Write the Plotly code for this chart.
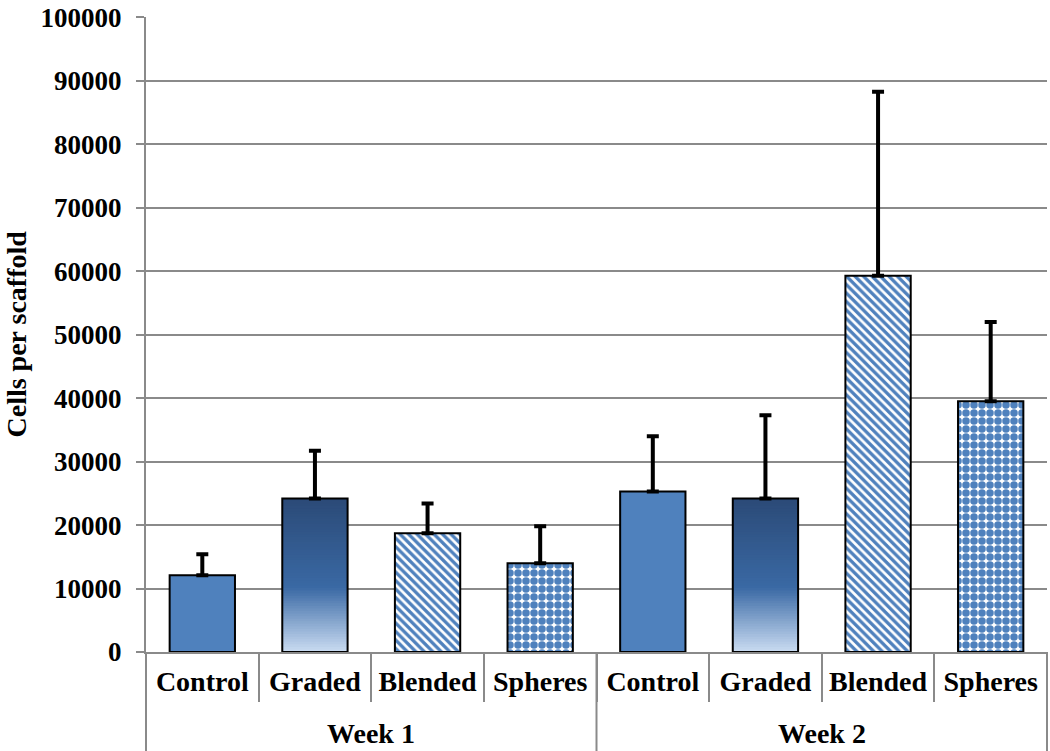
import plotly.graph_objects as go

# data
weeks = ["Week 1"] * 4 + ["Week 2"] * 4
groups = ["Control", "Graded", "Blended", "Spheres"] * 2
cells = [12100, 24200, 18700, 14000, 25300, 24200, 59300, 39500]
err_top = [15400, 31700, 23400, 19800, 34000, 37300, 88300, 52000]
week_labels = ["Week 1", "Week 2"]

BLUE = "#4f81bd"
GRID = "#8a8a8a"
FONT = "Liberation Serif"
WIDTH = 0.58

keys = [w + " " + g for w, g in zip(weeks, groups)]


def pick(name):
    idx = [i for i, g in enumerate(groups) if g == name]
    return [keys[i] for i in idx], [cells[i] for i in idx]


def mix(c1, c2, t):
    a = [int(c1[i:i + 2], 16) for i in (1, 3, 5)]
    b = [int(c2[i:i + 2], 16) for i in (1, 3, 5)]
    return "rgb(%d,%d,%d)" % tuple(round(a[k] + (b[k] - a[k]) * t) for k in range(3))


def grad(f):
    # light at the bottom, mid blue around 40 %, dark navy at the top
    if f < 0.42:
        return mix("#cadcf2", "#3a69a4", f / 0.42)
    return mix("#3a69a4", "#2b4a77", (f - 0.42) / 0.58)


fig = go.Figure()

# base trace: sets the category order and fills the control bars
fig.add_trace(go.Bar(
    x=keys, y=cells, width=WIDTH,
    marker=dict(color=[BLUE if g == "Control" else "white" for g in groups], line_width=0),
    hoverinfo="skip"))

# graded: vertical gradient built from overlapping bars
gk, vals = pick("Graded")
N = 60
for k in range(N):
    f = (N - k) / N
    fig.add_trace(go.Bar(
        x=gk, y=[v * f for v in vals], width=WIDTH,
        marker=dict(color=grad(f - 0.5 / N), line_width=0), hoverinfo="skip"))

gk, vals = pick("Blended")
fig.add_trace(go.Bar(
    x=gk, y=vals, width=WIDTH,
    marker=dict(color="white", line_width=0,
                pattern=dict(shape="\\", fgcolor=BLUE, bgcolor="white", fgopacity=1,
                             size=6, solidity=0.55))))

gk, vals = pick("Spheres")
fig.add_trace(go.Bar(
    x=gk, y=vals, width=WIDTH,
    marker=dict(color="white", line_width=0,
                pattern=dict(shape=".", fgcolor=BLUE, bgcolor="white", fgopacity=1,
                             size=8, solidity=0.7))))

# outline + upper error bars
fig.add_trace(go.Bar(
    x=keys, y=cells, width=WIDTH,
    marker=dict(color="rgba(0,0,0,0)", line=dict(color="black", width=2)),
    error_y=dict(type="data", symmetric=False,
                 array=[e - c for e, c in zip(err_top, cells)],
                 arrayminus=[0] * len(cells),
                 color="black", thickness=4, width=6)))

# outer group labels and the long dividers between weeks
for i, wl in enumerate(week_labels):
    fig.add_annotation(x=0.25 + 0.5 * i, xref="paper", xanchor="center",
                       y=-81 / 635, yref="paper", yanchor="middle",
                       text="<b>" + wl + "</b>", showarrow=False,
                       font=dict(family=FONT, size=28, color="black"))
for xp in (0, 0.5, 1):
    fig.add_shape(type="line", xref="paper", yref="paper", x0=xp, x1=xp, y0=0, y1=-0.2,
                  line=dict(color=GRID, width=2))

fig.add_annotation(text="<b>Cells per scaffold</b>", textangle=-90, showarrow=False,
                   xref="paper", x=0, xshift=-130, xanchor="center",
                   yref="paper", y=0.5, yanchor="middle",
                   font=dict(family=FONT, size=28, color="black"))

fig.update_layout(
    width=1050, height=751,
    barmode="overlay", showlegend=False,
    plot_bgcolor="white", paper_bgcolor="white",
    margin=dict(l=146, r=3, t=17, b=99, autoexpand=False),
    font=dict(family=FONT, size=28, color="black"),
)
fig.update_yaxes(
    range=[0, 100060], dtick=10000, tickformat="d", automargin=False,
    showgrid=True, gridcolor=GRID, gridwidth=2,
    showline=True, linecolor=GRID, linewidth=2,
    ticks="outside", ticklen=8, tickcolor=GRID, tickwidth=2,
    ticklabelstandoff=9, ticklabeloverflow="allow",
    tickfont=dict(family=FONT, size=27, color="black", weight="bold"),
    zeroline=False,
)
fig.update_xaxes(
    type="category", tickmode="array", tickvals=keys, ticktext=groups, automargin=False,
    showline=True, linecolor=GRID, linewidth=2,
    ticks="outside", tickson="boundaries", ticklen=48, tickcolor=GRID, tickwidth=2,
    ticklabelstandoff=3, ticklabeloverflow="allow",
    tickfont=dict(family=FONT, size=28, color="black", weight="bold"),
)

# the page's default body margin would push the figure 8 px in; drop it
fig.write_html("out.html", config={"displayModeBar": False},
               post_script="document.body.style.margin='0';")
